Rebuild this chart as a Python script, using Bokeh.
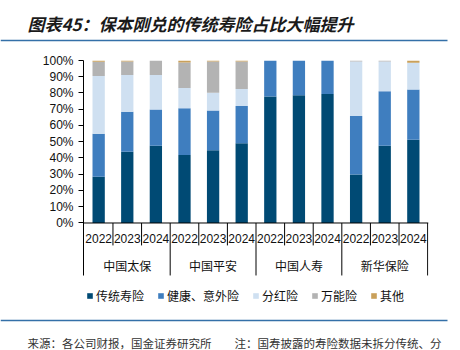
from bokeh.plotting import figure
from bokeh.layouts import column
from bokeh.models import (FactorRange, Range1d, ColumnDataSource, FixedTicker,
                          PrintfTickFormatter, Span, Label, BoxAnnotation)
from bokeh.core.properties import value
from bokeh.embed import file_html
from bokeh.resources import INLINE

# ---------------- data ----------------
companies = ["中国太保", "中国平安", "中国人寿", "新华保险"]
years = ["2022", "2023", "2024"]
series_labels = ["传统寿险", "健康、意外险", "分红险", "万能险", "其他"]
colors = ["#004A74", "#3F7EBF", "#CFE0F1", "#B3B3B3", "#C9A05A"]

traditional   = [28.4, 43.9, 47.6, 41.8, 44.7, 49.0, 77.8, 78.6, 79.4, 29.8, 47.6, 51.2]
health        = [26.5, 24.5, 22.2, 28.8, 24.5, 23.0, 22.2, 21.4, 20.6, 36.1, 33.4, 31.0]
participating = [35.5, 22.6, 21.2, 12.5, 11.0, 10.4, 0.0, 0.0, 0.0, 33.5, 18.4, 16.4]
universal     = [8.8, 8.4, 9.0, 15.7, 19.2, 17.0, 0.0, 0.0, 0.0, 0.6, 0.6, 0.0]
other         = [0.8, 0.6, 0.0, 1.2, 0.6, 0.6, 0.0, 0.0, 0.0, 0.0, 0.0, 1.4]

y_ticks = [0, 10, 20, 30, 40, 50, 60, 70, 80, 90, 100]
title_text = "图表45：保本刚兑的传统寿险占比大幅提升"
source_text = "来源：各公司财报，国金证券研究所\u3000\u3000注：国寿披露的寿险数据未拆分传统、分"

RULE = "#3470A8"


def blank(fig):
    fig.outline_line_color = None
    fig.xgrid.visible = False
    fig.ygrid.visible = False
    fig.xaxis.visible = False
    fig.yaxis.visible = False
    fig.title.visible = False
    return fig


# ---------------- header ----------------
head = blank(figure(width=460, height=45, x_range=Range1d(0, 460), y_range=Range1d(45, 0),
                    output_backend="svg", toolbar_location=None, min_border=0,
                    frame_align=False))
head.add_layout(Label(x=27, y=23, text=title_text, text_font="Noto Sans CJK SC",
                      text_font_size="17px", text_font_style="bold italic",
                      text_color="#1a1a1a", text_baseline="middle"))
head.add_layout(BoxAnnotation(left=0, right=447, top=39.2, bottom=40.8,
                              fill_color=RULE, fill_alpha=1, line_color=None))

# ---------------- main chart ----------------
factors = [(c, y) for c in companies for y in years]
keys = ["trad", "health", "par", "univ", "other"]
src = ColumnDataSource(dict(x=factors, trad=traditional, health=health,
                            par=participating, univ=universal, other=other))

AXMIN = -32.3      # bottom of the category axis block
YMIN = -55.08      # bottom of the frame (room for the legend)
p = figure(width=460, height=270,
           x_range=FactorRange(*factors, factor_padding=0, group_padding=0,
                               range_padding=0.03, range_padding_units="absolute"),
           y_range=Range1d(YMIN, 100),
           output_backend="svg", toolbar_location=None, frame_align=False,
           min_border_left=83, min_border_right=32, min_border_top=15, min_border_bottom=3)
p.outline_line_color = None
p.xgrid.visible = False
p.ygrid.visible = False
p.xaxis.visible = False
p.title.visible = False
p.background_fill_color = "white"
p.border_fill_color = "white"

p.vbar_stack(keys, x="x", width=0.43, color=colors, line_color=None,
             source=src, legend_label=series_labels)

ya = p.yaxis[0]
ya.bounds = (AXMIN, 100)
ya.ticker = FixedTicker(ticks=y_ticks)
ya.formatter = PrintfTickFormatter(format="%d%%")
ya.major_tick_out = 5
ya.major_tick_in = 0
ya.minor_tick_line_color = None
ya.major_label_standoff = 5
ya.axis_line_color = "black"
ya.major_tick_line_color = "black"
ya.major_label_text_font = "Liberation Sans"
ya.major_label_text_font_size = "12px"
ya.major_label_text_color = "#111111"

# x baseline
p.add_layout(Span(location=0, dimension="width", line_color="black", line_width=1))

# separators
sep_x, sep_y1 = [], []
for c in companies:
    for yi, y in enumerate(years):
        sep_x.append((c, y, 0.5))
        sep_y1.append(AXMIN if yi == len(years) - 1 else -13.8)
sep = ColumnDataSource(dict(x=sep_x, y0=[0] * len(sep_x), y1=sep_y1))
p.segment(x0="x", y0="y0", x1="x", y1="y1", source=sep, line_color="black", line_width=1)

# year labels
yl = ColumnDataSource(dict(x=factors, y=[-9.5] * len(factors), t=[f[1] for f in factors]))
p.text(x="x", y="y", text="t", source=yl, text_align="center", text_baseline="middle",
       text_font=value("Liberation Sans"), text_font_size="12px", text_color="#111111")

# company labels
gl = ColumnDataSource(dict(x=[(c, years[1]) for c in companies],
                           y=[-26.2] * len(companies), t=companies))
p.text(x="x", y="y", text="t", source=gl, text_align="center", text_baseline="middle",
       text_font=value("Noto Sans CJK SC"), text_font_size="12px", text_color="#111111")

# legend (inside the frame, below the axis block)
lg = p.legend[0]
lg.orientation = "horizontal"
lg.location = (3, 8.5)
lg.glyph_width = 7
lg.glyph_height = 7
lg.label_height = 12
lg.label_standoff = 3
lg.spacing = 13
lg.padding = 0
lg.margin = 0
lg.border_line_color = None
lg.background_fill_alpha = 0
lg.label_text_font = "Noto Sans CJK SC"
lg.label_text_font_size = "12px"
lg.label_text_color = "#111111"

# ---------------- footer ----------------
foot = blank(figure(width=460, height=35, x_range=Range1d(0, 460), y_range=Range1d(35, 0),
                    output_backend="svg", toolbar_location=None, min_border=0,
                    frame_align=False))
foot.add_layout(BoxAnnotation(left=0, right=447, top=4.3, bottom=5.8,
                              fill_color=RULE, fill_alpha=1, line_color=None))
foot.add_layout(Label(x=27, y=27, text=source_text, text_font="Noto Sans CJK SC",
                      text_font_size="11.5px", text_color="#333333", text_baseline="middle"))

layout = column(head, p, foot, spacing=0)
open("out.html", "w").write(file_html(layout, INLINE))
